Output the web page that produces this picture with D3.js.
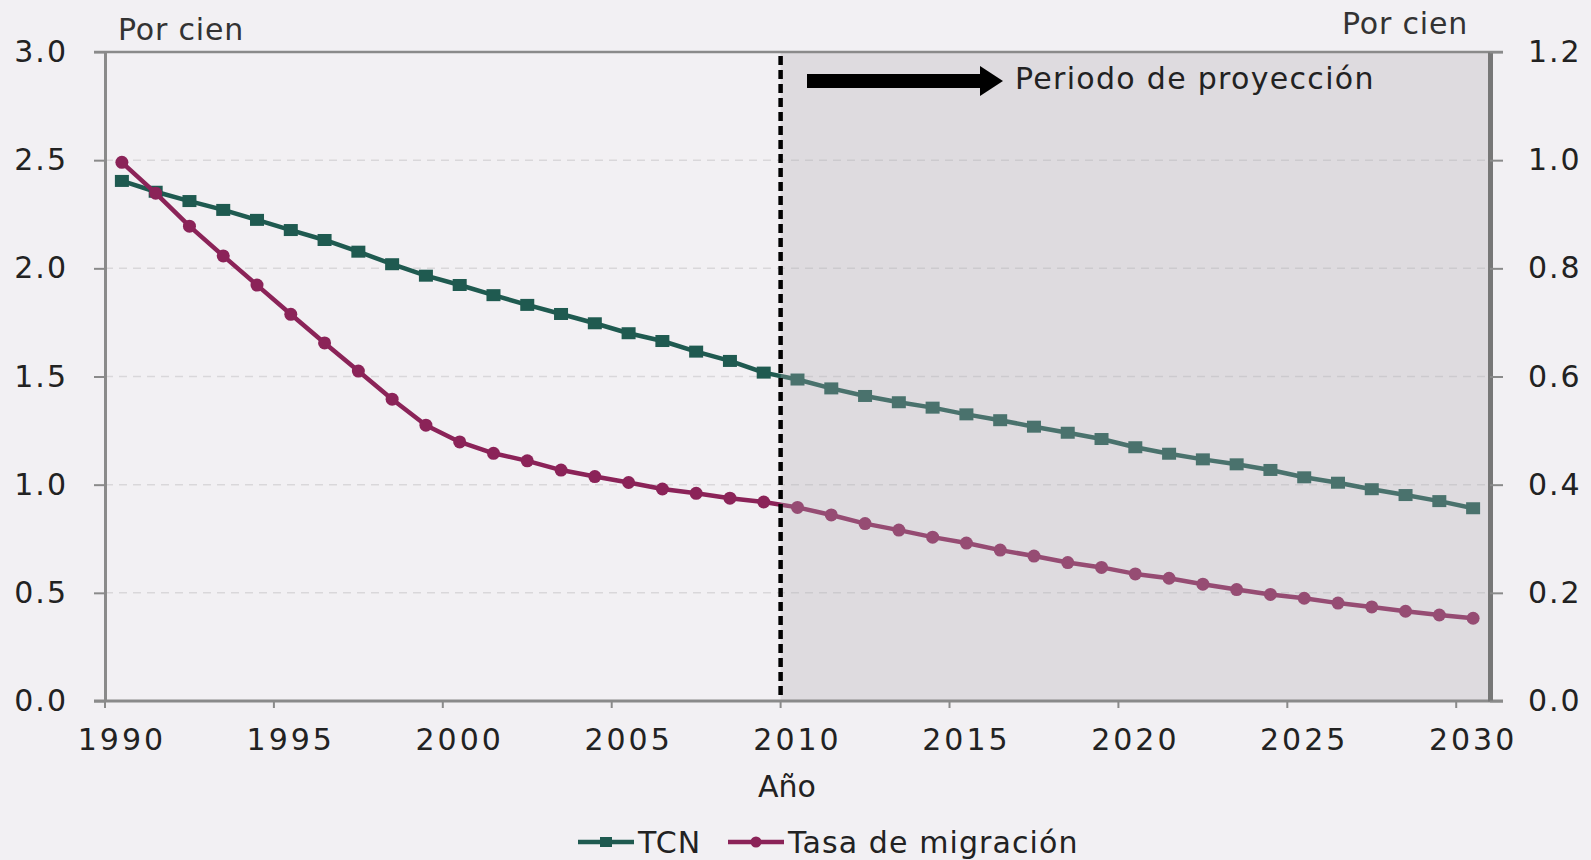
<!DOCTYPE html>
<html>
<head>
<meta charset="utf-8">
<script src="https://cdn.jsdelivr.net/npm/d3@7"></script>
<style>
  body { margin: 0; background: #f2f0f3; }
  svg { display: block; font-family: "DejaVu Sans", Verdana, sans-serif; }
</style>
</head>
<body>
<svg id="chart" width="1591" height="860"></svg>
<script>
// years on the category axis
const years = d3.range(1990, 2031);

// TCN, left axis (por cien)
const tcn = [2.404, 2.354, 2.311, 2.270, 2.224, 2.177, 2.131, 2.077, 2.019, 1.966,
  1.923, 1.876, 1.831, 1.789, 1.746, 1.700, 1.664, 1.615, 1.572, 1.518,
  1.486, 1.445, 1.410, 1.381, 1.356, 1.325, 1.298, 1.268, 1.240, 1.211,
  1.173, 1.143, 1.117, 1.094, 1.068, 1.034, 1.009, 0.979, 0.952, 0.924, 0.891];

// Tasa de migración, right axis (por cien)
const migracion = [0.996, 0.939, 0.878, 0.823, 0.769, 0.715, 0.662, 0.610, 0.558, 0.510,
  0.479, 0.458, 0.444, 0.427, 0.415, 0.404, 0.392, 0.384, 0.375, 0.368,
  0.358, 0.344, 0.328, 0.316, 0.303, 0.292, 0.279, 0.268, 0.256, 0.247,
  0.235, 0.227, 0.216, 0.206, 0.197, 0.190, 0.181, 0.174, 0.166, 0.159, 0.153];

const leftTicks = [0, 0.5, 1.0, 1.5, 2.0, 2.5, 3.0];
const rightTicks = [0, 0.2, 0.4, 0.6, 0.8, 1.0, 1.2];
const yearTicks = [1990, 1995, 2000, 2005, 2010, 2015, 2020, 2025, 2030];
const projStart = 2010;

const legendItems = [
  {name: 'TCN', color: '#1f5a50', shape: 'square'},
  {name: 'Tasa de migración', color: '#8b2358', shape: 'circle'}
];

const svg = d3.select('#chart');
const pLeft = 105, pRight = 1490, pTop = 52, pBottom = 701;

const x = d3.scaleBand().domain(years).range([pLeft, pRight]).paddingInner(0).paddingOuter(0);
const bw = x.bandwidth();
const cx = y => x(y) + bw / 2;
const yL = d3.scaleLinear().domain([0, 3]).range([pBottom, pTop]);
const yR = d3.scaleLinear().domain([0, 1.2]).range([pBottom, pTop]);

// gridlines
svg.append('g').selectAll('line')
  .data(leftTicks.filter(d => d > 0 && d < 3))
  .join('line')
  .attr('x1', pLeft).attr('x2', pRight)
  .attr('y1', d => yL(d)).attr('y2', d => yL(d))
  .attr('stroke', '#d9d7da').attr('stroke-width', 1.5).attr('stroke-dasharray', '8,6');

// series
const series = [
  {vals: tcn, y: yL, item: legendItems[0]},
  {vals: migracion, y: yR, item: legendItems[1]}
];

series.forEach(s => {
  const pts = years.map((yr, i) => [cx(yr), s.y(s.vals[i])]);
  svg.append('path')
    .attr('d', d3.line()(pts))
    .attr('fill', 'none')
    .attr('stroke', s.item.color)
    .attr('stroke-width', 4.5)
    .attr('stroke-linejoin', 'round');
  if (s.item.shape == 'square') {
    svg.append('g').selectAll('rect').data(pts).join('rect')
      .attr('x', d => d[0] - 7).attr('y', d => d[1] - 6)
      .attr('width', 14).attr('height', 12)
      .attr('fill', s.item.color);
  } else {
    svg.append('g').selectAll('circle').data(pts).join('circle')
      .attr('cx', d => d[0]).attr('cy', d => d[1]).attr('r', 6.5)
      .attr('fill', s.item.color);
  }
});

// projection shading (sits over the lines, so they look paler)
svg.append('rect')
  .attr('x', x(projStart)).attr('y', pTop)
  .attr('width', pRight - x(projStart)).attr('height', pBottom - pTop)
  .attr('fill', 'rgb(175,173,178)').attr('fill-opacity', 0.3);

// dashed divider
svg.append('line')
  .attr('x1', x(projStart)).attr('x2', x(projStart))
  .attr('y1', pTop + 4).attr('y2', pBottom)
  .attr('stroke', '#000').attr('stroke-width', 4.5).attr('stroke-dasharray', '9,5');

// arrow + label
const ay = 81;
svg.append('rect').attr('x', 807).attr('y', ay - 7).attr('width', 176).attr('height', 14).attr('fill', '#000');
svg.append('path').attr('d', `M980,${ay - 15} L1003,${ay} L980,${ay + 15} Z`).attr('fill', '#000');
svg.append('text').attr('x', 1015).attr('y', 89).attr('font-size', 30).attr('fill', '#222').attr('letter-spacing', 1.3)
  .text('Periodo de proyección');

// frame
const axisCol = '#8a8a8a';
svg.append('line').attr('x1', 94).attr('x2', pRight + 13).attr('y1', pTop).attr('y2', pTop)
  .attr('stroke', axisCol).attr('stroke-width', 2.5);
svg.append('line').attr('x1', 94).attr('x2', pRight + 13).attr('y1', pBottom).attr('y2', pBottom)
  .attr('stroke', axisCol).attr('stroke-width', 3);

// left axis
const gL = svg.append('g').attr('transform', `translate(${pLeft},0)`)
  .call(d3.axisLeft(yL).tickValues(leftTicks).tickFormat(d3.format('.1f'))
    .tickSize(11).tickSizeOuter(0).tickPadding(26));
// right axis
const gR = svg.append('g').attr('transform', `translate(${pRight},0)`)
  .call(d3.axisRight(yR).tickValues(rightTicks).tickFormat(d3.format('.1f'))
    .tickSize(13).tickSizeOuter(0).tickPadding(25));
gL.select('.domain').attr('stroke', axisCol).attr('stroke-width', 3);
gR.select('.domain').attr('stroke', '#777').attr('stroke-width', 5);
[gL, gR].forEach(g => {
  g.selectAll('.tick line').attr('stroke', axisCol).attr('stroke-width', 2);
  g.selectAll('text').attr('font-size', 30).attr('fill', '#222').attr('letter-spacing', 2)
    .attr('font-family', '"DejaVu Sans", Verdana, sans-serif');
});

// bottom axis: ticks at category edges, labels at centres
svg.append('g').selectAll('line').data(yearTicks).join('line')
  .attr('x1', d => x(d)).attr('x2', d => x(d))
  .attr('y1', pBottom).attr('y2', pBottom + 7)
  .attr('stroke', axisCol).attr('stroke-width', 2);
svg.append('g').selectAll('text').data(yearTicks).join('text')
  .attr('x', d => cx(d)).attr('y', 750)
  .attr('text-anchor', 'middle').attr('font-size', 30).attr('fill', '#222').attr('letter-spacing', 3)
  .text(d => d);

// axis titles
svg.append('text').attr('x', 118).attr('y', 40).attr('font-size', 30).attr('fill', '#333').attr('letter-spacing', 0.8).text('Por cien');
svg.append('text').attr('x', 1468).attr('y', 34).attr('text-anchor', 'end').attr('font-size', 30).attr('fill', '#333').attr('letter-spacing', 0.8).text('Por cien');
svg.append('text').attr('x', 787).attr('y', 797).attr('text-anchor', 'middle').attr('font-size', 30).attr('fill', '#222').text('Año');

// legend
const legX = [578, 728];
const legY = 842;
const lg = svg.append('g').selectAll('g').data(legendItems).join('g')
  .attr('transform', (d, i) => `translate(${legX[i]},${legY})`);
lg.append('line').attr('x1', 0).attr('x2', 56).attr('y1', 0).attr('y2', 0)
  .attr('stroke', d => d.color).attr('stroke-width', 4.5);
lg.filter(d => d.shape == 'square').append('rect')
  .attr('x', 22).attr('y', -5).attr('width', 12).attr('height', 10).attr('fill', d => d.color);
lg.filter(d => d.shape == 'circle').append('circle')
  .attr('cx', 28).attr('cy', 0).attr('r', 5.5).attr('fill', d => d.color);
lg.append('text').attr('x', 60).attr('y', 11).attr('font-size', 30).attr('fill', '#222').attr('letter-spacing', 1.1)
  .text(d => d.name);
</script>
</body>
</html>
